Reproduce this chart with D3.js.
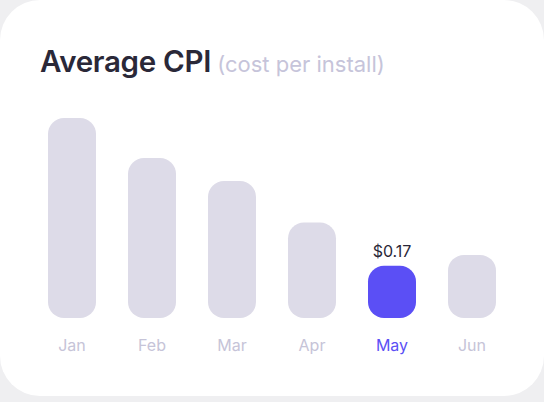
<!DOCTYPE html><html><head><meta charset="utf-8">
<script src="https://cdn.jsdelivr.net/npm/d3@7"></script>
<style>body{margin:0;background:#efeff1;font-family:Inter,"Noto Sans",sans-serif}</style></head><body>
<svg id="c" width="544" height="402"></svg>
<script>
const months=["Jan","Feb","Mar","Apr","May","Jun"];
const cpi=[0.65,0.52,0.445,0.31,0.17,0.205];
const highlight="May";
const svg=d3.select("#c");
svg.append("rect").attr("x",0).attr("y",0).attr("width",544).attr("height",396).attr("rx",40).attr("fill","#fff");
const t=svg.append("text").attr("x",40).attr("y",72);
t.append("tspan").text("Average CPI").attr("font-size",29.5).attr("font-weight",600).attr("fill","#2a2838").attr("letter-spacing",-0.3);
t.append("tspan").text(" (cost per install)").attr("font-size",22).attr("fill","#c6c4da");
const x=d3.scaleBand().domain(months).range([32,512]).paddingInner(0.4).paddingOuter(0.2);
const y=d3.scaleLinear().domain([0,0.65]).range([318,118]);
const g=svg.append("g");
months.forEach((m,i)=>{
  const hl=m===highlight;
  g.append("rect").attr("x",x(m)).attr("y",y(cpi[i])).attr("width",x.bandwidth()).attr("height",318-y(cpi[i])).attr("rx",16).attr("fill",hl?"#5b4ff5":"#dddbe8");
  g.append("text").attr("x",x(m)+x.bandwidth()/2).attr("y",351).attr("text-anchor","middle").attr("font-size",16).attr("fill",hl?"#5b4ff5":"#c6c4d8").text(m);
  if(hl) g.append("text").attr("x",x(m)+x.bandwidth()/2).attr("y",y(cpi[i])-9).attr("text-anchor","middle").attr("font-size",16).attr("fill","#2a2838").text("$"+cpi[i].toFixed(2));
});
</script></body></html>
